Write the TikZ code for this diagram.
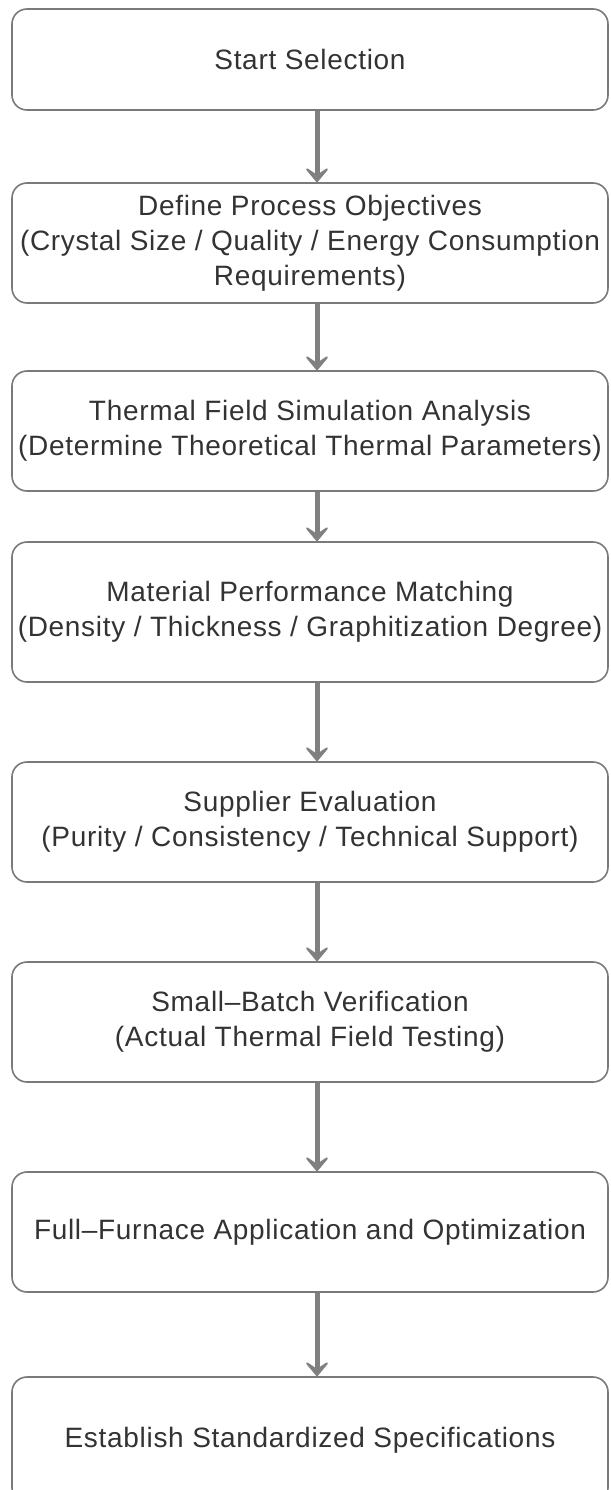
\documentclass[tikz,border=0pt]{standalone}
\usepackage{fontspec}
\setmainfont[LetterSpace=2.5]{Liberation Sans}
\usetikzlibrary{arrows.meta}
\definecolor{boxline}{HTML}{7A7A7A}
\definecolor{arrowc}{HTML}{808080}
\definecolor{txt}{HTML}{333333}
\tikzset{
  stepbox/.style={draw=boxline, line width=1.6pt, rounded corners=15pt,
    minimum width=596pt, align=center, text=txt, inner sep=0pt,
    font=\fontsize{28}{35}\selectfont},
  flow/.style={draw=arrowc, line width=5pt,
    -{Stealth[length=18pt,width=30pt,inset=10pt,round]}}
}
\begin{document}
\begin{tikzpicture}[x=1pt,y=-1pt]
\fill[white] (0,0) rectangle (610,1490);
\useasboundingbox (0,0) rectangle (610,1490);
\begin{scope}
\clip (0,0) rectangle (610,1490);
\node[stepbox, minimum height=101pt] (n1) at (310,59.5) {Start Selection};
\node[stepbox, minimum height=120pt] (n2) at (310,243) {Define Process Objectives\\(Crystal Size / Quality / Energy Consumption\\Requirements)};
\node[stepbox, minimum height=120pt] (n3) at (310,431) {Thermal Field Simulation Analysis\\(Determine Theoretical Thermal Parameters)};
\node[stepbox, minimum height=140pt] (n4) at (310,612) {Material Performance Matching\\(Density / Thickness / Graphitization Degree)};
\node[stepbox, minimum height=120pt] (n5) at (310,822) {Supplier Evaluation\\(Purity / Consistency / Technical Support)};
\node[stepbox, minimum height=120pt] (n6) at (310,1022) {Small–Batch Verification\\(Actual Thermal Field Testing)};
\node[stepbox, minimum height=120pt] (n7) at (310,1232) {Full–Furnace Application and Optimization};
\node[stepbox, minimum height=126pt] (n8) at (310,1440) {Establish Standardized Specifications};
\end{scope}
\foreach \a/\b in {n1/n2,n2/n3,n3/n4,n4/n5,n5/n6,n6/n7,n7/n8}
  \draw[flow] ([xshift=7pt]\a.south) -- ([xshift=7pt]\b.north);
\end{tikzpicture}
\end{document}
